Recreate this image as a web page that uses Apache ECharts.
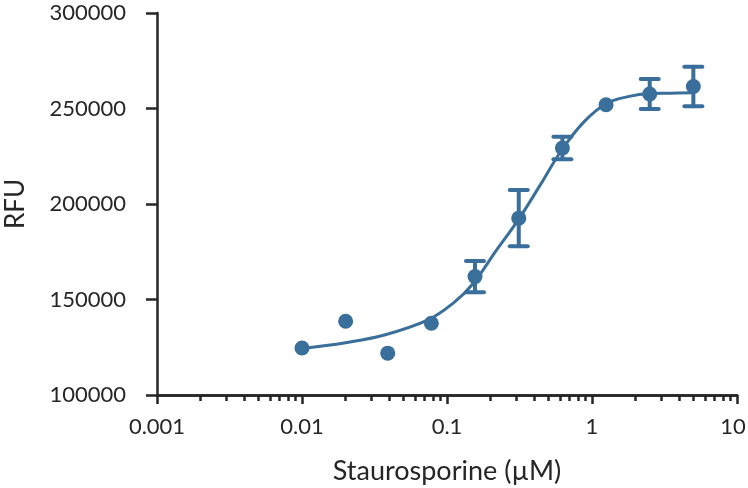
<!DOCTYPE html>
<html>
<head>
<meta charset="utf-8">
<script src="https://cdn.jsdelivr.net/npm/echarts@6/dist/echarts.min.js"></script>
<style>
  html, body { margin: 0; padding: 0; background: #fff; }
  #chart { width: 748px; height: 488px; }
</style>
</head>
<body>
<div id="chart"></div>
<script>
// measured points (concentration in uM)
var conc = [0.01, 0.02, 0.039, 0.078, 0.156, 0.3125, 0.625, 1.25, 2.5, 5];
var rfu = [124600, 138600, 121900, 137600, 162000, 192600, 229300, 252000, 257600, 261500];
var rfuErr = [null, null, null, null, 8200, 14700, 5900, null, 7900, 10300];

// fitted curve
var fitX = [0.01, 0.02, 0.037, 0.074, 0.11, 0.15, 0.22, 0.31, 0.44, 0.62, 0.88, 1.25, 1.77, 2.5, 3.5, 5];
var fitY = [124400, 127400, 131400, 139300, 148000, 158000, 176000, 191700, 210000, 228400, 243000, 252500, 256200, 257800, 258000, 258200];

var majorTicks = [0.001, 0.01, 0.1, 1, 10];
var minorTicks = [];
[0.001, 0.01, 0.1, 1].forEach(function (d) {
  for (var k = 2; k <= 9; k++) minorTicks.push(+(d * k).toPrecision(3));
});

var blue = '#3a6e9b';
var ink = '#262626';
var font = 'Lato';

var chartDom = document.getElementById('chart');
var myChart = echarts.init(chartDom);

var xBase = {
  type: 'log',
  logBase: 10,
  min: 0.001,
  max: 10,
  splitLine: { show: false },
  axisLine: { lineStyle: { color: ink, width: 2.5 } }
};

var option = {
  animation: false,
  grid: { left: 157, right: 11, top: 13, bottom: 93, outerBoundsMode: 'none', containLabel: false },
  xAxis: [
    Object.assign({}, xBase, {
      name: 'Staurosporine (\u00b5M)',
      nameLocation: 'middle',
      nameGap: 63,
      nameTextStyle: { fontFamily: font, fontSize: 27, color: ink },
      axisTick: { show: true, customValues: majorTicks, length: 9, lineStyle: { color: ink, width: 2.5 } },
      axisLabel: {
        customValues: majorTicks,
        fontFamily: font, fontSize: 22, color: ink, margin: 21,
        formatter: function (v) { return v >= 10 ? '{last|' + v + '}' : String(v); },
        rich: { last: { fontFamily: font, fontSize: 22, color: ink, padding: [0, 8, 0, 0] } }
      }
    }),
    Object.assign({}, xBase, {
      position: 'bottom',
      axisTick: { show: true, customValues: minorTicks, length: 6, lineStyle: { color: ink, width: 2.5 } },
      axisLabel: { show: false }
    })
  ],
  yAxis: {
    type: 'value',
    min: 100000,
    max: 300000,
    interval: 50000,
    name: 'RFU',
    nameLocation: 'middle',
    nameGap: 128,
    nameTextStyle: { fontFamily: font, fontSize: 26, color: ink },
    splitLine: { show: false },
    axisLine: { show: true, lineStyle: { color: ink, width: 2.5 } },
    axisTick: { show: true, length: 11, lineStyle: { color: ink, width: 2.5 } },
    axisLabel: {
      fontFamily: font, fontSize: 22, color: ink, margin: 31,
      formatter: function (v) { return String(v); }
    }
  },
  series: [
    {
      name: 'fit',
      type: 'line',
      smooth: 0.4,
      symbol: 'none',
      lineStyle: { color: blue, width: 3 },
      data: fitX.map(function (x, i) { return [x, fitY[i]]; }),
      z: 2
    },
    {
      name: 'error',
      type: 'custom',
      data: conc.map(function (x, i) { return [x, rfu[i], rfuErr[i]]; }),
      renderItem: function (params, api) {
        var e = api.value(2);
        if (!e) return null;
        var x = api.value(0), y = api.value(1);
        var hi = api.coord([x, y + e]);
        var lo = api.coord([x, y - e]);
        var half = 9;
        var st = { stroke: blue, lineWidth: 4, lineCap: 'round' };
        return {
          type: 'group',
          children: [
            { type: 'line', shape: { x1: hi[0], y1: hi[1], x2: lo[0], y2: lo[1] }, style: st },
            { type: 'line', shape: { x1: hi[0] - half, y1: hi[1], x2: hi[0] + half, y2: hi[1] }, style: st },
            { type: 'line', shape: { x1: lo[0] - half, y1: lo[1], x2: lo[0] + half, y2: lo[1] }, style: st }
          ]
        };
      },
      z: 3
    },
    {
      name: 'data',
      type: 'scatter',
      symbolSize: 15,
      itemStyle: { color: blue, opacity: 1 },
      data: conc.map(function (x, i) { return [x, rfu[i]]; }),
      z: 4
    }
  ]
};

myChart.setOption(option);
</script>
</body>
</html>
